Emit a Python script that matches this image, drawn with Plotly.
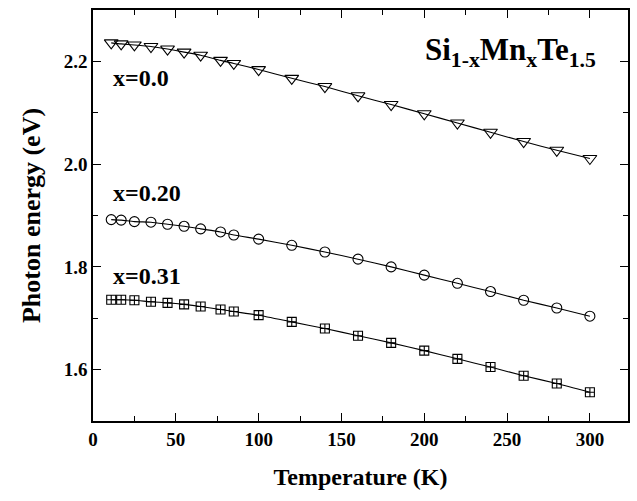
import plotly.graph_objects as go

# Temperatures (K) at which the optical gap was measured
temperature = [11, 17, 25, 35, 45, 55, 65, 77, 85, 100,
               120, 140, 160, 180, 200, 220, 240, 260, 280, 300]

# Photon energy (eV) for each Mn content
energy_x000 = [2.236, 2.234, 2.232, 2.229, 2.224, 2.218, 2.212, 2.202, 2.196, 2.184,
               2.167, 2.151, 2.133, 2.116, 2.098, 2.080, 2.062, 2.044, 2.027, 2.011]
energy_x020 = [1.892, 1.891, 1.888, 1.887, 1.883, 1.879, 1.874, 1.868, 1.862, 1.854,
               1.842, 1.829, 1.815, 1.800, 1.784, 1.768, 1.752, 1.735, 1.720, 1.704]
energy_x031 = [1.736, 1.736, 1.735, 1.732, 1.730, 1.727, 1.723, 1.717, 1.713, 1.706,
               1.693, 1.680, 1.666, 1.652, 1.637, 1.621, 1.605, 1.588, 1.573, 1.556]

series = [
    ("x=0.0", energy_x000, "triangle-down-open", 12),
    ("x=0.20", energy_x020, "circle-open", 10),
    ("x=0.31", energy_x031, "square-cross-open", 9),
]

FONT = "Liberation Serif, Times New Roman, serif"

fig = go.Figure()
for name, vals, sym, size in series:
    fig.add_trace(go.Scatter(
        x=temperature, y=vals, name=name,
        mode="lines+markers",
        line=dict(color="black", width=1.1, shape="spline", smoothing=0.6),
        marker=dict(symbol=sym, size=size, color="black",
                    line=dict(color="black", width=1.1)),
        showlegend=False,
    ))

# Composition labels next to each curve
labels = [("x=0.0", 2.167), ("x=0.20", 1.944), ("x=0.31", 1.783)]
for text, yv in labels:
    fig.add_annotation(x=11, y=yv, text=text, xanchor="left", yanchor="middle",
                       showarrow=False,
                       font=dict(family=FONT, size=24, color="black", weight="bold"))

fig.add_annotation(x=305, y=2.262, xanchor="right", yanchor="top", showarrow=False,
                   text="Si<sub>1-x</sub>Mn<sub>x</sub>Te<sub>1.5</sub>",
                   font=dict(family=FONT, size=31, color="black", weight="bold"))

axis_common = dict(
    showline=True, linecolor="black", linewidth=1.5, mirror="ticks",
    ticks="inside", ticklen=8, tickwidth=1.2, tickcolor="black",
    showgrid=False, zeroline=False,
    tickfont=dict(family=FONT, size=19, color="black", weight="bold"),
)

fig.update_xaxes(range=[0, 323], tickvals=[0, 50, 100, 150, 200, 250, 300],
                 minor=dict(ticks="inside", ticklen=5, tickwidth=1, tickcolor="black", dtick=25, tick0=0),
                 title=dict(text="Temperature (K)", standoff=20,
                            font=dict(family=FONT, size=24, color="black", weight="bold")),
                 **axis_common)
fig.update_yaxes(range=[1.5, 2.3], tickvals=[1.6, 1.8, 2.0, 2.2], tickformat=".1f",
                 minor=dict(ticks="inside", ticklen=5, tickwidth=1, tickcolor="black", dtick=0.1, tick0=1.5),
                 title=dict(text="Photon energy (eV)", standoff=16,
                            font=dict(family=FONT, size=26, color="black", weight="bold")),
                 **axis_common)

fig.update_layout(
    width=637, height=501,
    margin=dict(l=93, r=7, t=10, b=80),
    plot_bgcolor="white", paper_bgcolor="white",
)

fig.write_html("out.html")
